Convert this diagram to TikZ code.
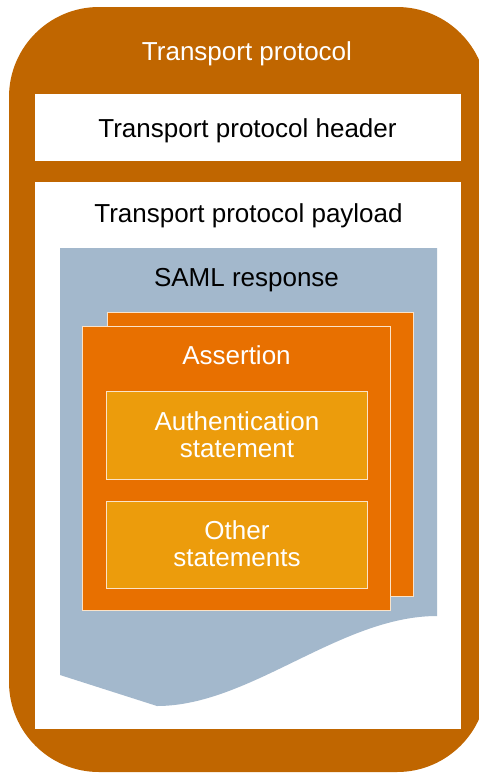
\documentclass[tikz,border=0pt]{standalone}
\usepackage{fontspec}
\setmainfont{Liberation Sans}
\definecolor{outerbrown}{HTML}{C06600}
\definecolor{assertorange}{HTML}{E87000}
\definecolor{stmtorange}{HTML}{EC9C0C}
\definecolor{samlblue}{HTML}{A3B8CC}
\definecolor{paleedge}{HTML}{FBE3C8}
\tikzset{
  box/.style={rectangle, inner sep=0pt, outer sep=0pt},
  whitebox/.style={box, fill=white},
  assertbox/.style={box, fill=assertorange, draw=paleedge, line width=0.9pt},
  stmtbox/.style={box, fill=stmtorange, draw=paleedge, line width=0.9pt},
  lbl/.style={anchor=base, inner sep=0pt, font=\fontsize{26}{27}\selectfont},
}
\begin{document}
\begin{tikzpicture}[x=1pt,y=-1pt]
\useasboundingbox (0,0) rectangle (479,774);
\begin{scope}
\clip (0,0) rectangle (479,774);
\fill[outerbrown, rounded corners=90pt] (9,7) rectangle (487,772);
\end{scope}
% header and payload
\node[whitebox, minimum width=426pt, minimum height=67pt] (header) at (248,127.5) {};
\node[whitebox, minimum width=426pt, minimum height=547pt] (payload) at (248,455.5) {};
% SAML response document
\fill[samlblue] (60,248) -- (437,248) -- (437,616)
  .. controls (340,616) and (250,706) .. (157,706)
  -- (60,675) -- cycle;
% assertions
\node[assertbox, minimum width=306pt, minimum height=284pt] (assert2) at (260,454) {};
\node[assertbox, minimum width=308pt, minimum height=284pt] (assert1) at (236,468) {};
\node[stmtbox, minimum width=261pt, minimum height=88pt] (auth) at (236.5,435) {};
\node[stmtbox, minimum width=261pt, minimum height=87pt] (other) at (236.5,544.5) {};
% labels
\node[lbl, text=white] (tp) at (247,60) {Transport protocol};
\node[lbl] (tph) at (247.5,137) {Transport protocol header};
\node[lbl] (tpp) at (248.5,222) {Transport protocol payload};
\node[lbl] (saml) at (246.5,286) {SAML response};
\node[lbl, text=white] (as) at (236.5,364) {Assertion};
\node[lbl, text=white] (au1) at (237,430) {Authentication};
\node[lbl, text=white] (au2) at (237,457) {statement};
\node[lbl, text=white] (ot1) at (237,539) {Other};
\node[lbl, text=white] (ot2) at (237,566) {statements};
\end{tikzpicture}
\end{document}
